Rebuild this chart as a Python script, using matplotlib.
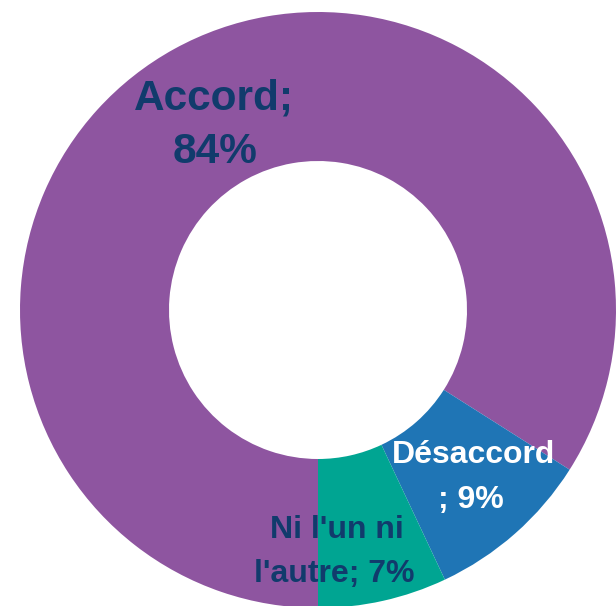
import matplotlib
matplotlib.use("Agg")
import matplotlib.pyplot as plt

categories = ["Accord", "Désaccord", "Ni l'un ni l'autre"]
values = [84, 9, 7]
colors = ["#8E55A0", "#1F75B5", "#00A592"]
label_lines = [["Accord;", "84%"], ["Désaccord", "; 9%"], ["Ni l'un ni", "l'autre; 7%"]]
label_colors = ["#113B6C", "#FFFFFF", "#113B6C"]

W, H = 616, 606
fig = plt.figure(figsize=(W / 100, H / 100), dpi=100)
ax = fig.add_axes([0, 0, 1, 1])

cx, cy = 318, H - 310
R = 298
ax.pie(values, colors=colors, startangle=-90, counterclock=False,
       radius=R, center=(cx, cy), frame=True,
       wedgeprops=dict(width=R * 0.5, edgecolor="none", linewidth=0))
ax.set_xlim(0, W)
ax.set_ylim(0, H)
ax.set_aspect("equal")
ax.axis("off")

# label positions (pixel coords: x center, baseline y of each line) and sizes
pos = [[(214, 110), (215, 163)], [(473, 463), (471, 508)], [(337, 538), (334, 582)]]
sizes = [30.5, 23, 23]
for lines, c, p, s in zip(label_lines, label_colors, pos, sizes):
    for txt, (x, y) in zip(lines, p):
        ax.text(x, H - y, txt, ha="center", va="baseline", fontsize=s,
                fontweight="bold", color=c, family="Liberation Sans")

fig.savefig("out.png", dpi=100)
